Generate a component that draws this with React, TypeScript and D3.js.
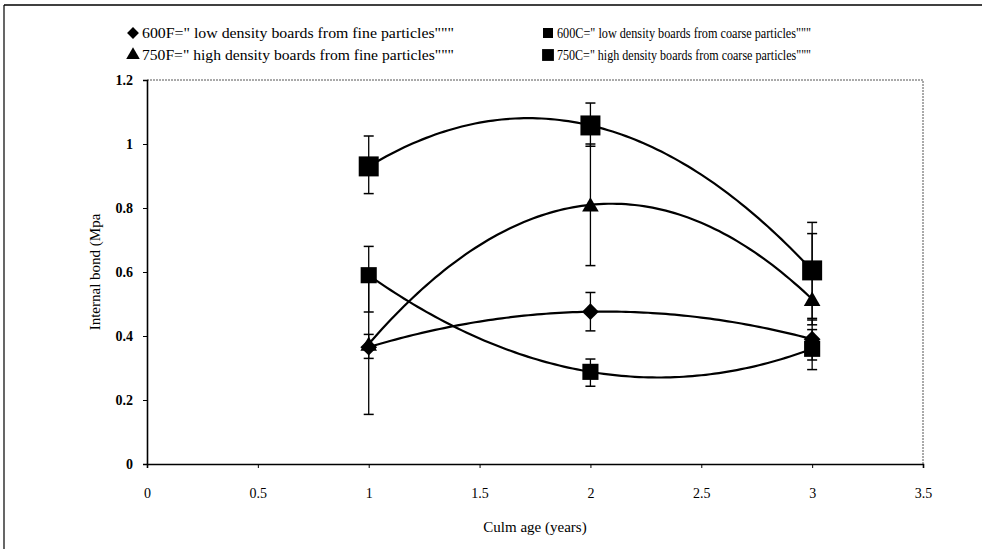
import React, { useEffect, useRef } from 'react'
import * as d3 from 'd3'

// culm age (years)
const culmAge = [1, 2, 3]

// internal bond means per board type
const ib600F = [0.365, 0.476, 0.39]
const ib600C = [0.59, 0.288, 0.36]
const ib750F = [0.375, 0.81, 0.515]
const ib750C = [0.93, 1.058, 0.605]

// error bars (upper / lower)
const errUp600F = [0.04, 0.06, 0.06]
const errDn600F = [0.035, 0.06, 0.065]
const errUp600C = [0.09, 0.04, 0.06]
const errDn600C = [0.115, 0.045, 0.065]
const errUp750F = [0.225, 0.19, 0.205]
const errDn750F = [0.22, 0.19, 0.08]
const errUp750C = [0.095, 0.07, 0.15]
const errDn750C = [0.085, 0.065, 0.15]

const legendLabels = [
  '600F=" low density boards from fine particles"""',
  '600C=" low density boards from coarse particles"""',
  '750F=" high density boards from fine particles"""',
  '750C=" high density boards from coarse particles"""',
]

const xTicks = [0, 0.5, 1, 1.5, 2, 2.5, 3, 3.5]
const yTicks = [0, 0.2, 0.4, 0.6, 0.8, 1, 1.2]

type Series = {
  y: number[]
  up: number[]
  dn: number[]
  symbol: d3.SymbolType
  size: number
  rotate: number
  legendSize: number
}

const series: Series[] = [
  { y: ib600F, up: errUp600F, dn: errDn600F, symbol: d3.symbolSquare, size: 140, rotate: 45, legendSize: 70 },
  { y: ib600C, up: errUp600C, dn: errDn600C, symbol: d3.symbolSquare, size: 260, rotate: 0, legendSize: 100 },
  { y: ib750F, up: errUp750F, dn: errDn750F, symbol: d3.symbolTriangle, size: 120, rotate: 0, legendSize: 80 },
  { y: ib750C, up: errUp750C, dn: errDn750C, symbol: d3.symbolSquare, size: 400, rotate: 0, legendSize: 140 },
]

// 2nd order polynomial trendline through the three points
function quadFit(xs: number[], ys: number[]) {
  return (x: number) =>
    ys.reduce((acc, yi, i) => {
      let term = yi
      xs.forEach((xj, j) => {
        if (j !== i) term *= (x - xj) / (xs[i] - xj)
      })
      return acc + term
    }, 0)
}

const WIDTH = 982
const HEIGHT = 549
const FONT = '"Liberation Serif", "Times New Roman", serif'

export default function App(): JSX.Element {
  const svgRef = useRef<SVGSVGElement | null>(null)

  useEffect(() => {
    const svg = d3.select(svgRef.current)
    svg.selectAll('*').remove()

    const x = d3.scaleLinear().domain([0, 3.5]).range([147, 923])
    const y = d3.scaleLinear().domain([0, 1.2]).range([464, 80])

    // page frame remnants
    svg.append('line').attr('x1', 4).attr('x2', WIDTH).attr('y1', 5).attr('y2', 5).attr('stroke', '#000').attr('stroke-width', 1.6)
    svg.append('line').attr('x1', 4).attr('x2', 4).attr('y1', 5).attr('y2', HEIGHT).attr('stroke', '#000').attr('stroke-width', 1.2)

    // plot area border (top / right dotted)
    svg.append('path')
      .attr('d', `M${x(0)},${y(1.2)}H${x(3.5)}V${y(0)}`)
      .attr('fill', 'none')
      .attr('stroke', '#555')
      .attr('stroke-width', 1)
      .attr('stroke-dasharray', '2,1')

    // axes
    const xAxis = svg.append('g').attr('transform', `translate(0,${y(0)})`)
      .call(d3.axisBottom(x).tickValues(xTicks).tickSize(4).tickFormat(d3.format('')))
    xAxis.select('.domain').attr('stroke-width', 1.6)
    xAxis.selectAll('text').attr('font-family', FONT).attr('font-size', 14).attr('dy', '1.9em')

    const yAxis = svg.append('g').attr('transform', `translate(${x(0)},0)`)
      .call(d3.axisLeft(y).tickValues(yTicks).tickSize(4).tickFormat(d3.format('')))
    yAxis.select('.domain').attr('stroke-width', 1.6)
    yAxis.selectAll('text').attr('font-family', FONT).attr('font-size', 14).attr('font-weight', 'bold').attr('dx', '-0.5em')

    svg.append('text')
      .attr('x', (x(0) + x(3.5)) / 2)
      .attr('y', 532)
      .attr('text-anchor', 'middle')
      .attr('font-family', FONT)
      .attr('font-size', 15)
      .text('Culm age (years)')

    svg.append('text')
      .attr('transform', `translate(100,272) rotate(-90)`)
      .attr('text-anchor', 'middle')
      .attr('font-family', FONT)
      .attr('font-size', 15)
      .text('Internal bond (Mpa')

    const plot = svg.append('g')

    series.forEach((s) => {
      const f = quadFit(culmAge, s.y)
      const xs = d3.range(culmAge[0], culmAge[culmAge.length - 1] + 0.0001, 0.02)
      const lineFn = d3.line<number>().x((d) => x(d)).y((d) => y(f(d)))
      plot.append('path')
        .datum(xs)
        .attr('fill', 'none')
        .attr('stroke', '#000')
        .attr('stroke-width', 2.2)
        .attr('d', lineFn)
    })

    series.forEach((s) => {
      culmAge.forEach((a, i) => {
        const cx = x(a)
        const top = y(s.y[i] + s.up[i])
        const bot = y(s.y[i] - s.dn[i])
        plot.append('line').attr('x1', cx).attr('x2', cx).attr('y1', top).attr('y2', bot).attr('stroke', '#000').attr('stroke-width', 1.3)
        plot.append('line').attr('x1', cx - 5).attr('x2', cx + 5).attr('y1', top).attr('y2', top).attr('stroke', '#000').attr('stroke-width', 1.5)
        plot.append('line').attr('x1', cx - 5).attr('x2', cx + 5).attr('y1', bot).attr('y2', bot).attr('stroke', '#000').attr('stroke-width', 1.5)
      })
    })

    series.forEach((s) => {
      culmAge.forEach((a, i) => {
        plot.append('path')
          .attr('d', d3.symbol().type(s.symbol).size(s.size)())
          .attr('transform', `translate(${x(a)},${y(s.y[i]) + (s.symbol === d3.symbolTriangle ? 2 : 0)}) rotate(${s.rotate})`)
          .attr('fill', '#000')
      })
    })

    // legend: two columns, two rows
    const legend = svg.append('g')
    const colX = [133, 548]
    const colTextW = [312, 254]
    const rowY = [33, 55]
    series.forEach((s, i) => {
      const lx = colX[i % 2]
      const ly = rowY[Math.floor(i / 2)]
      legend.append('path')
        .attr('d', d3.symbol().type(s.symbol).size(s.legendSize)())
        .attr('transform', `translate(${lx},${ly}) rotate(${s.rotate})`)
        .attr('fill', '#000')
      legend.append('text')
        .attr('x', lx + 9)
        .attr('y', ly + 5)
        .attr('font-family', FONT)
        .attr('font-size', 14)
        .attr('textLength', colTextW[i % 2])
        .attr('lengthAdjust', 'spacingAndGlyphs')
        .text(legendLabels[i])
    })
  }, [])

  return (
    <svg
      ref={svgRef}
      width={WIDTH}
      height={HEIGHT}
      style={{ position: 'absolute', left: 0, top: 0, background: '#fff' }}
      xmlns="http://www.w3.org/2000/svg"
    />
  )
}
